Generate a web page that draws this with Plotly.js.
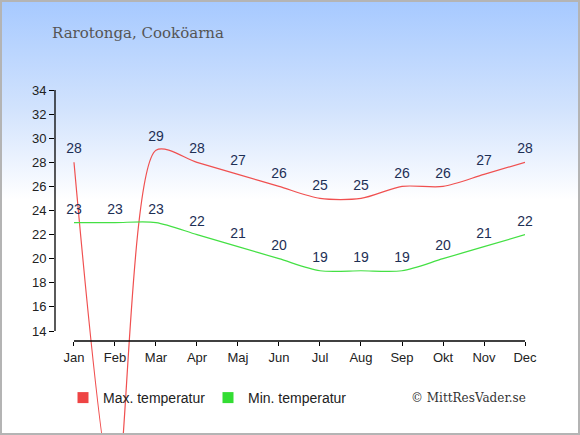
<!DOCTYPE html>
<html>
<head>
<meta charset="utf-8">
<script src="https://cdn.plot.ly/plotly-3.0.1.min.js"></script>
<style>
html,body{margin:0;padding:0;background:#fff;}
#wrap{position:absolute;left:0;top:0;width:580px;height:435px;
 background:linear-gradient(to bottom,#a6c9ff 0px,#d2e3fd 110px,#ffffff 200px,#ffffff 435px);}
#chart{position:absolute;left:0;top:0;width:580px;height:435px;}
#frame{position:absolute;left:0;top:0;width:580px;height:435px;box-sizing:border-box;
 border:2px solid #b4b4b4;pointer-events:none;}
</style>
</head>
<body>
<div id="wrap"><div id="chart"></div><div id="frame"></div></div>
<script>
const months = ["Jan","Feb","Mar","Apr","Maj","Jun","Jul","Aug","Sep","Okt","Nov","Dec"];
const maxTemp = [28,0,29,28,27,26,25,25,26,26,27,28];
const maxLabels = ["28","","29","28","27","26","25","25","26","26","27","28"];
const minTemp = [23,23,23,22,21,20,19,19,19,20,21,22];
const minLabels = ["23","23","23","22","21","20","19","19","19","20","21","22"];
const yTicks = [14,16,18,20,22,24,26,28,30,32,34];

const idx = months.map((m,i)=>i);
const labelFont = {family:"Liberation Sans, Arial, sans-serif", size:14, color:"#1d2f55"};
const tickFont = {family:"Liberation Sans, Arial, sans-serif", size:13, color:"#222"};

const traces = [
 {x:idx, y:maxTemp, mode:"lines+markers+text", text:maxLabels, textposition:"top center",
  textfont:labelFont, cliponaxis:false, hoverinfo:"none", showlegend:false,
  line:{color:"#f05050", width:1.2, shape:"spline", smoothing:0.8},
  marker:{size:7, color:"rgba(0,0,0,0)"}},
 {x:idx, y:minTemp, mode:"lines+markers+text", text:minLabels, textposition:"top center",
  textfont:labelFont, cliponaxis:false, hoverinfo:"none", showlegend:false,
  line:{color:"#44e044", width:1.2, shape:"spline", smoothing:0.8},
  marker:{size:7, color:"rgba(0,0,0,0)"}},
 {x:[null], y:[null], mode:"markers", name:"Max. temperatur",
  marker:{symbol:"square", size:11, color:"#ee4444"}},
 {x:[null], y:[null], mode:"markers", name:"Min. temperatur",
  marker:{symbol:"square", size:11, color:"#33dd33"}}
];

const xAxisPos = (435-341)/345;
const layout = {
 width:580, height:435,
 margin:{l:55, r:55, t:90, b:0, pad:0},
 paper_bgcolor:"rgba(0,0,0,0)", plot_bgcolor:"rgba(0,0,0,0)",
 showlegend:true,
 legend:{orientation:"h", x:(63-55)/470, y:(435-398)/345, yanchor:"middle", xanchor:"left",
  font:{family:"Liberation Sans, Arial, sans-serif", size:14, color:"#222"},
  entrywidth:100, entrywidthmode:"pixels", itemwidth:30, bgcolor:"rgba(0,0,0,0)"},
 xaxis:{range:[-0.463, 11], tickvals:idx, ticktext:months, ticks:"outside", ticklen:4,
  tickcolor:"#000", showgrid:false, zeroline:false, showline:false,
  anchor:"free", position:xAxisPos, fixedrange:true, tickfont:tickFont},
 yaxis:{range:[34-(435-90)/12.05, 34], tickvals:yTicks, ticks:"outside", ticklen:5,
  tickcolor:"#000", showgrid:false, zeroline:false, showline:false, fixedrange:true,
  tickfont:tickFont},
 shapes:[
  {type:"line", xref:"paper", yref:"y", x0:0, x1:0, y0:14, y1:34, line:{color:"#000", width:1.3}},
  {type:"line", xref:"x", yref:"paper", x0:0, x1:11, y0:xAxisPos, y1:xAxisPos, line:{color:"#000", width:1.3}}
 ],
 annotations:[
  {xref:"paper", yref:"paper", x:(50-55)/470, y:(435-33)/345, xanchor:"left", yanchor:"middle",
   text:"Rarotonga, Cooköarna", showarrow:false,
   font:{family:"DejaVu Serif, Georgia, serif", size:15, color:"#555"}},
  {xref:"paper", yref:"paper", x:(528-55)/470, y:(435-398)/345, xanchor:"right", yanchor:"middle",
   text:"© MittResVader.se", showarrow:false,
   font:{family:"DejaVu Serif, Georgia, serif", size:12, color:"#333"}}
 ]
};
Plotly.newPlot("chart", traces, layout, {staticPlot:true, displayModeBar:false});
</script>
</body>
</html>
